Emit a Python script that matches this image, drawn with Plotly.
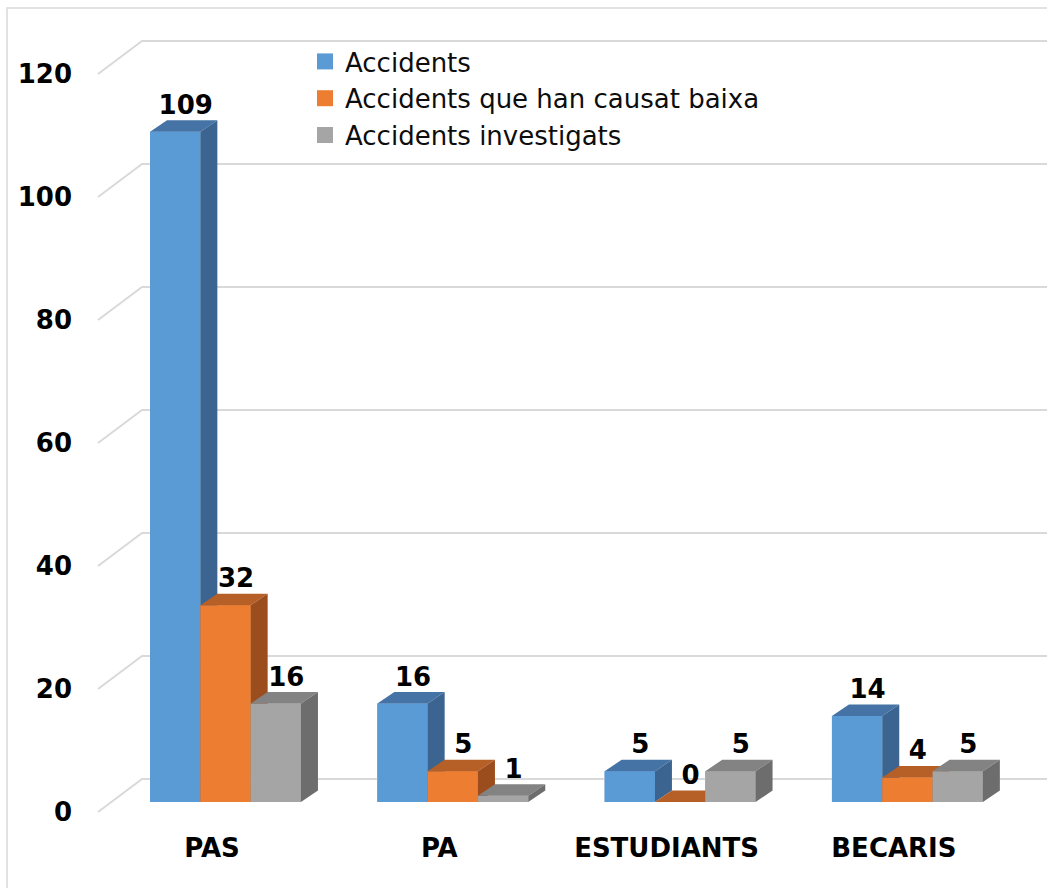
import plotly.graph_objects as go

# ---------------- data ----------------
categories = ["PAS", "PA", "ESTUDIANTS", "BECARIS"]
series_names = ["Accidents", "Accidents que han causat baixa", "Accidents investigats"]
accidents = [109, 16, 5, 14]
baixa = [32, 5, 0, 4]
investigats = [16, 1, 5, 5]
y_ticks = [0, 20, 40, 60, 80, 100, 120]

# ---------------- style ----------------
front_colors = ["#5B9BD5", "#ED7D31", "#A5A5A5"]
top_colors = ["#4673A6", "#B65F26", "#838383"]
side_colors = ["#3B6590", "#9B4D1D", "#6D6D6D"]
grid_color = "#D9D9D9"
FONT = "DejaVu Sans"

W, H = 1047, 888
ML, MR, MT, MB = 85, 0, 25, 58
plot_w = W - ML - MR
plot_h = H - MT - MB

# pixel geometry of the pseudo-3D projection
px_per_cat = 227.3          # distance between category centres
px_per_val = 6.15           # pixels per unit on value axis
x0_px = 225.5               # pixel x of first category centre
y0_px = 802.0               # pixel y of value 0 (front plane)
xr = [(ML - x0_px) / px_per_cat, (W - MR - x0_px) / px_per_cat]
yr = [(y0_px - (H - MB)) / px_per_val, (y0_px - MT) / px_per_val]

bargap = 0.336
bw = (1 - bargap) / 3
dx = 17 / px_per_cat
dy = 11.5 / px_per_val

# back-wall gridlines
gx_front = (98 - x0_px) / px_per_cat
gx_back = (142 - x0_px) / px_per_cat
gy_front = -10 / px_per_val
gy_back = 23 / px_per_val

fig = go.Figure()

gxs, gys = [], []
for v in y_ticks:
    gxs += [gx_front, gx_back, xr[1], None]
    gys += [v + gy_front, v + gy_back, v + gy_back, None]
fig.add_trace(go.Scatter(x=gxs, y=gys, mode="lines", line=dict(color=grid_color, width=2),
                         hoverinfo="skip", showlegend=False, cliponaxis=False))

values = [accidents, baixa, investigats]
xs_cat = list(range(len(categories)))

# real bars (front faces)
for s, vals in enumerate(values):
    fig.add_trace(go.Bar(x=xs_cat, y=vals, name=series_names[s], marker=dict(color=front_colors[s], line=dict(width=0)),
                         showlegend=False, hoverinfo="skip"))

# pseudo-3D faces, drawn in depth order
for s, vals in enumerate(values):
    fx, fy, tx, ty, sx, sy = [], [], [], [], [], []
    for i, v in enumerate(vals):
        a = i - 1.5 * bw + s * bw
        b = a + bw
        fx += [a, b, b, a, a, None]
        fy += [0, 0, v, v, 0, None]
        tx += [a, b, b + dx, a + dx, a, None]
        ty += [v, v, v + dy, v + dy, v, None]
        sx += [b, b + dx, b + dx, b, b, None]
        sy += [0, dy, v + dy, v, 0, None]
    for px_, py_, col in ((fx, fy, front_colors[s]), (tx, ty, top_colors[s]), (sx, sy, side_colors[s])):
        fig.add_trace(go.Scatter(x=px_, y=py_, mode="lines", fill="toself", fillcolor=col,
                                 line=dict(width=0, color=col), hoverinfo="skip", showlegend=False))

# data labels
for s, vals in enumerate(values):
    lx = [i - 1.5 * bw + s * bw + bw / 2 + dx / 2 + 2 / px_per_cat for i in xs_cat]
    ly = [v + dy for v in vals]
    fig.add_trace(go.Scatter(x=lx, y=ly, mode="text", text=[str(v) for v in vals],
                             textposition="top center",
                             textfont=dict(family=FONT, size=26, color="#000000", weight="bold"),
                             hoverinfo="skip", showlegend=False, cliponaxis=False))

# legend entries
for s in range(3):
    fig.add_trace(go.Scatter(x=[None], y=[None], mode="markers", name=series_names[s],
                             marker=dict(symbol="square", size=16, color=front_colors[s])))

fig.add_shape(type="rect", xref="paper", yref="paper",
              x0=(7 - ML) / plot_w, x1=1.2, y0=-0.2, y1=(H - MB - 8) / plot_h,
              line=dict(color=grid_color, width=1.5), fillcolor="rgba(0,0,0,0)", layer="below")

fig.update_layout(
    width=W, height=H,
    margin=dict(l=ML, r=MR, t=MT, b=MB, pad=0),
    paper_bgcolor="white", plot_bgcolor="rgba(0,0,0,0)",
    barmode="group", bargap=bargap, bargroupgap=0,
    showlegend=True,
    legend=dict(x=(305 - ML) / plot_w, y=(H - MB - 38) / plot_h, xanchor="left", yanchor="top",
                font=dict(family=FONT, size=26, color="#0D0D0D"), bgcolor="rgba(0,0,0,0)",
                itemsizing="trace", tracegroupgap=0),
    xaxis=dict(range=xr, showgrid=False, zeroline=False, showline=False,
               tickvals=[i - 13.5 / px_per_cat for i in xs_cat], ticktext=categories,
               tickfont=dict(family=FONT, size=26, color="#000000", weight="bold"), ticks=""),
    yaxis=dict(range=yr, showgrid=False, zeroline=False, showline=False,
               tickvals=[v + gy_front for v in y_ticks], ticktext=[str(v) for v in y_ticks],
               tickfont=dict(family=FONT, size=26, color="#000000", weight="bold"), ticks="",
               ticklabelstandoff=12),
)

fig.write_html("out.html", config={"displayModeBar": False},
               post_script="document.body.style.margin='0';document.body.style.padding='0';")
